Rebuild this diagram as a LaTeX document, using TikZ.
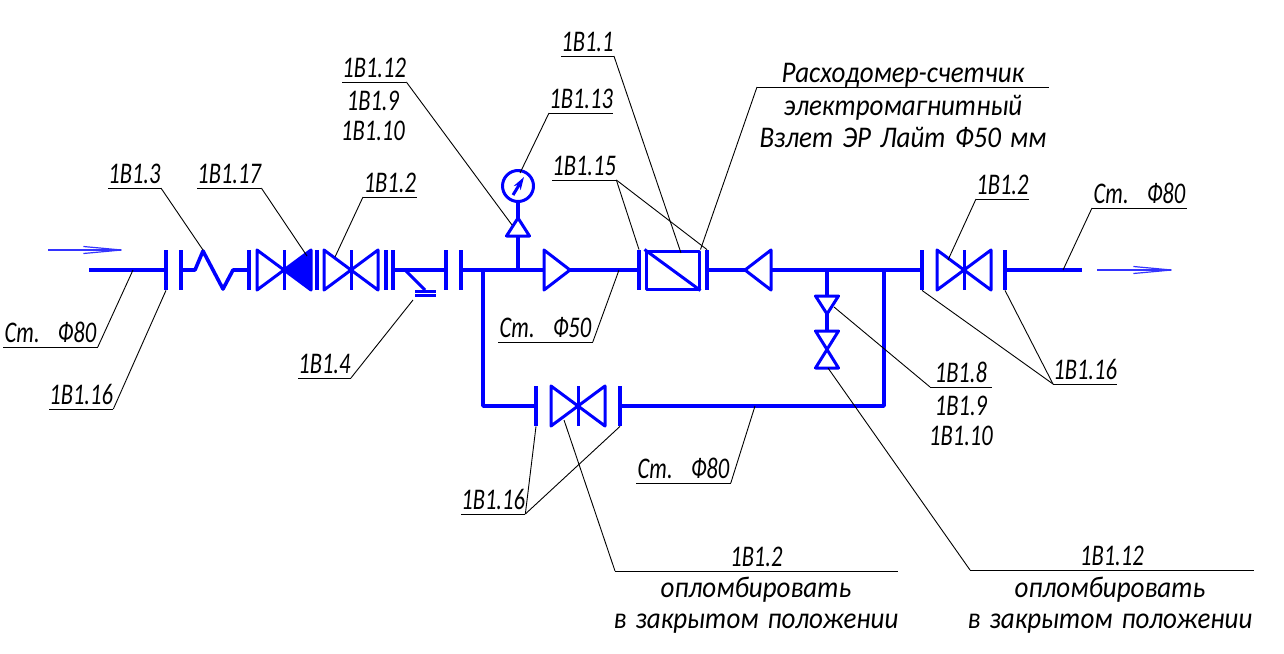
\documentclass[tikz,border=0pt]{standalone}
\usepackage{fontspec}
\setmainfont{Carlito}[FakeStretch=0.9]
\newfontfamily\codefont{Carlito}[FakeStretch=0.75]
\usetikzlibrary{arrows.meta}

\newcommand{\gap}{\hspace{0.3em}}

\tikzset{
  pipe/.style={draw=blue, line width=1.8pt, line join=round},
  symb/.style={draw=blue, line width=1.5pt, line join=round},
  flange/.style={fill=blue, inner sep=0pt, minimum width=1.8pt, minimum height=20pt},
  leader/.style={draw=black, line width=0.45pt},
  flow/.style={draw=blue!80, line width=0.6pt, -{Straight Barb[length=19pt,width=3.5pt]}},
  lab/.style={inner sep=0pt, anchor=south west, text depth=2pt, font=\fontsize{15}{18}\codefont\itshape},
  sublab/.style={inner sep=0pt, anchor=base, font=\fontsize{15}{18}\selectfont\itshape},
  subcode/.style={sublab, font=\fontsize{15}{18}\codefont\itshape},
  valve/.pic={
    \draw[symb] (-27,-20) -- (27,20) -- (27,-20) -- (-27,20) -- cycle;
    \draw[symb] (0,-20) -- (0,20);
  },
}

\begin{document}
\begin{tikzpicture}[x=0.5pt, y=-0.5pt]
  \useasboundingbox (0,0) rectangle (1284,653);

  % flanges
  \foreach \n/\x/\y in {fl1/166/270, fl2/181/270, fl3/249/270, fl4/317/270, fl5/386/270,
      fl6/393/270, fl7/446/270, fl8/461/270, fl9/639/270, fl10/707/270, fl11/922/270,
      fl12/1005/270, fl13/536/406, fl14/620/406} {
    \node[flange] (\n) at (\x,\y) {};
  }

  % helper points on the pipe
  \coordinate (in) at (89,270);
  \coordinate (out) at (1082,270);
  \coordinate (j1) at (483,270);
  \coordinate (j2) at (518,270);
  \coordinate (j3) at (827,270);
  \coordinate (j4) at (884,270);
  \coordinate (j5) at (483,406);
  \coordinate (j6) at (884,406);
  \coordinate (r1b) at (544,270);
  \coordinate (r1a) at (570,270);
  \coordinate (r2a) at (745,270);
  \coordinate (r2b) at (771,270);
  \coordinate (dr1) at (405,270);
  \coordinate (dr2) at (425,290);
  \coordinate (g1) at (518,236);
  \coordinate (g2) at (518,218);
  \coordinate (s1) at (827,296);
  \coordinate (s2) at (827,314);
  \coordinate (s3) at (827,331);

  % pipes
  \draw[pipe] (in) -- (fl1);
  \draw[pipe] (fl2) -- (195,270) -- (203,251) -- (223,289) -- (233,270) -- (fl3);
  \draw[pipe] (fl6) -- (fl7);
  \draw[pipe] (fl8) -- (r1b);
  \draw[pipe] (r1a) -- (fl9);
  \draw[pipe] (fl10) -- (r2a);
  \draw[pipe] (r2b) -- (fl11);
  \draw[pipe] (fl12) -- (out);
  \draw[pipe] (j1) -- (j5) -- (fl13);
  \draw[pipe] (fl14) -- (j6) -- (j4);
  \draw[pipe] (j2) -- (g1);
  \draw[pipe] (j3) -- (s1);
  \draw[pipe] (s2) -- (s3);

  % drain
  \draw[symb] (dr1) -- (dr2);
  \draw[symb, line width=1.2pt] (415,291.5) -- (436,291.5);
  \draw[symb, line width=1.2pt] (415,295.5) -- (436,295.5);

  % valves
  \pic (v17) at (284,270) {valve};
  \fill[blue] (284,270) -- (311,250) -- (311,290) -- cycle;
  \pic (v2) at (351,270) {valve};
  \pic (v3) at (964,270) {valve};
  \pic (v4) at (578,406) {valve};

  % reducers
  \draw[symb] (r1b) -- (544,250) -- (r1a) -- (544,290) -- cycle;
  \draw[symb] (r2b) -- (771,250) -- (r2a) -- (771,290) -- cycle;

  % gauge
  \draw[symb] (506.5,236) -- (g2) -- (529.5,236) -- cycle;
  \node[symb, circle, inner sep=0pt, minimum size=15.5pt] (gauge) at (518,186) {};
  \draw[pipe] (g2) -- (gauge);
  \draw[symb, -{Stealth[length=6.5pt,width=4pt]}] (513,195) -- (524,177);

  % side valves
  \draw[symb] (815.5,296) -- (s2) -- (838.5,296) -- cycle;
  \draw[symb] (815.5,331) -- (838.5,331) -- (815.5,368) -- (838.5,368) -- cycle;

  % meter
  \node[symb, inner sep=0pt, minimum width=26.5pt, minimum height=19pt] (fm) at (672.5,270) {};
  \draw[symb] (fm.north west) -- (fm.south east);

  % flow arrows
  \coordinate (fa1) at (48,250);
  \coordinate (fa2) at (128,250);
  \coordinate (fa3) at (1097,270);
  \coordinate (fa4) at (1178,270);
  \draw[flow] (fa1) -- (fa2);
  \draw[flow] (fa3) -- (fa4);

  % underlined labels
  \foreach \n/\x/\y/\w/\t in {lb3/108/188/52/1В1.3, lb17/197/188/62/1В1.17, lb2a/363/197/53/1В1.2,
      lb12a/342/82/62/1В1.12, lb1/561/56/50/1В1.1, lb13/549/113/62/1В1.13, lb15/552/180/61/1В1.15,
      lbfm/757/87/291/\rmfamily\itshape Расходомер-счетчик, lb2b/976/199/52/1В1.2, st3/1092/208/94/Ст.\gap\gap Ф80,
      st1/3/347/94/Ст.\gap\gap Ф80, lb16a/49/409/60/1В1.16, lb4/298/378/52/1В1.4, st2/498/342/94/Ст.\gap\gap Ф50,
      lb16b/1053/384/61/1В1.16, lb8/930/387/61/1В1.8, lb16c/461/514/61/1В1.16, st4/636/483/94/Ст.\gap\gap Ф80,
      lb2c/615/571/282/1В1.2, lb12b/970/570/283/1В1.12} {
    \node[lab, minimum width=\w*0.5pt] (\n) at (\x,\y) {\t};
    \draw[leader] (\n.south west) -- (\n.south east);
  }

  % lines under the rule
  \node[subcode] (t1) at (373,110) {1В1.9};
  \node[subcode] (t2) at (373,140) {1В1.10};
  \node[sublab] (t3) at (903,115) {электромагнитный};
  \node[sublab] (t4) at (903,147) {Взлет\gap ЭР\gap Лайт\gap Ф50\gap мм};
  \node[subcode] (t5) at (961,415) {1В1.9};
  \node[subcode] (t6) at (961,445) {1В1.10};
  \node[sublab] (t7) at (756,597) {опломбировать};
  \node[sublab] (t8) at (756,628) {в\gap закрытом\gap положении};
  \node[sublab] (t9) at (1110,597) {опломбировать};
  \node[sublab] (t10) at (1110,628) {в\gap закрытом\gap положении};

  % leader ends
  \coordinate (e3) at (203,250);
  \coordinate (e17) at (307,256);
  \coordinate (e2a) at (335,257);
  \coordinate (e12a) at (512,225);
  \coordinate (e1) at (681,253);
  \coordinate (e13) at (520,173);
  \coordinate (e2b) at (948,260);
  \coordinate (est3) at (1063,270);
  \coordinate (est1) at (133,270);
  \coordinate (e4) at (413,300);
  \coordinate (est2) at (619,270);
  \coordinate (e8) at (834,307);
  \coordinate (est4) at (755,406);
  \coordinate (e2c) at (564,420);
  \coordinate (e12b) at (828,368);

  \draw[leader] (lb3.south east) -- (e3);
  \draw[leader] (lb17.south east) -- (e17);
  \draw[leader] (lb2a.south west) -- (e2a);
  \draw[leader] (lb12a.south east) -- (e12a);
  \draw[leader] (lb1.south east) -- (e1);
  \draw[leader] (lb13.south west) -- (e13);
  \draw[leader] (lb15.south east) -- (fl9.north);
  \draw[leader] (lb15.south east) -- (fl10.north);
  \draw[leader] (lbfm.south west) -- (fm.north east);
  \draw[leader] (lb2b.south west) -- (e2b);
  \draw[leader] (st3.south west) -- (est3);
  \draw[leader] (st1.south east) -- (est1);
  \draw[leader] (lb16a.south east) -- (fl1.south);
  \draw[leader] (lb4.south east) -- (e4);
  \draw[leader] (st2.south east) -- (est2);
  \draw[leader] (lb16b.south west) -- (fl11.south);
  \draw[leader] (lb16b.south west) -- (fl12.south);
  \draw[leader] (lb8.south west) -- (e8);
  \draw[leader] (lb16c.south east) -- (fl13.south);
  \draw[leader] (lb16c.south east) -- (fl14.south);
  \draw[leader] (st4.south east) -- (est4);
  \draw[leader] (lb2c.south west) -- (e2c);
  \draw[leader] (lb12b.south west) -- (e12b);
\end{tikzpicture}
\end{document}
